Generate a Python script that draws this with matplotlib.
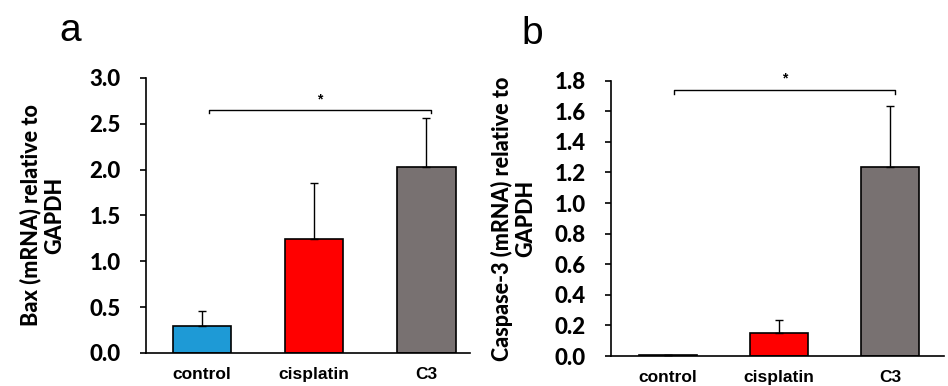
import matplotlib.pyplot as plt
import numpy as np

groups = ["control", "cisplatin", "C3"]
colors = ["#1e9ad6", "#ff0000", "#787171"]

baxMean = [0.29, 1.24, 2.03]
baxErr = [0.17, 0.61, 0.53]
casMean = [0.005, 0.148, 1.235]
casErr = [0.0, 0.09, 0.40]

# significance bracket (x from, x to, y level, tick drop)
baxSig = [0.06, 2.04, 2.65, 0.03]
casSig = [0.06, 2.04, 1.74, 0.025]

tickFont = "Lato"
labelFont = "Liberation Sans"


def panel(ax, means, errs, sig, ylim, yticks, ylabel, letter, xlim):
    x = np.arange(len(groups))
    ax.bar(x, means, width=0.52, color=colors, edgecolor="black", linewidth=1.2, zorder=2)
    ax.errorbar(x, means, yerr=[np.zeros(len(x)), errs], fmt="none", ecolor="black",
                elinewidth=1, capsize=3, capthick=1, zorder=3)
    x0, x1, y, d = sig
    ax.plot([x0, x0, x1, x1], [y - d, y, y, y - d], color="black", lw=1)
    ax.text((x0 + x1) / 2, y + d * 1.2, "*", ha="center", va="bottom", fontsize=10,
            fontweight="bold", family=labelFont)
    ax.set_xlim(xlim)
    ax.set_ylim(ylim)
    ax.set_yticks(yticks)
    ax.set_yticklabels([f"{t:.1f}" for t in yticks], family=tickFont, fontweight="black", fontsize=16)
    ax.set_xticks(x)
    ax.set_xticklabels(groups, family=labelFont, fontweight="bold", fontsize=12.5)
    ax.tick_params(axis="x", length=0, pad=10)
    ax.tick_params(axis="y", length=4, width=1.2, direction="out", pad=14)
    ax.spines["top"].set_visible(False)
    ax.spines["right"].set_visible(False)
    ax.spines["left"].set_linewidth(1.2)
    ax.spines["bottom"].set_linewidth(1.2)
    ax.set_ylabel(ylabel, family=tickFont, fontweight="black", fontsize=15.5, linespacing=1.15)
    ax.text(-0.235, 1.17, letter, transform=ax.transAxes, fontsize=28, family=labelFont,
            ha="center", va="center")


fig = plt.figure(figsize=(9.48, 3.86), dpi=100)
axA = fig.add_axes([0.154, 0.0855, 0.342, 0.7125])
axB = fig.add_axes([0.6445, 0.0777, 0.351, 0.7133])

panel(axA, baxMean, baxErr, baxSig, (0, 3.0), np.arange(0, 3.01, 0.5),
      "Bax (mRNA) relative to\nGAPDH", "a", (-0.5, 2.39))
panel(axB, casMean, casErr, casSig, (0, 1.8), np.arange(0, 1.81, 0.2),
      "Caspase-3 (mRNA) relative to\nGAPDH", "b", (-0.51, 2.48))

axA.yaxis.set_label_coords(-0.25, 0.5)
axB.yaxis.set_label_coords(-0.225, 0.5)

fig.savefig("out.png", dpi=100)
